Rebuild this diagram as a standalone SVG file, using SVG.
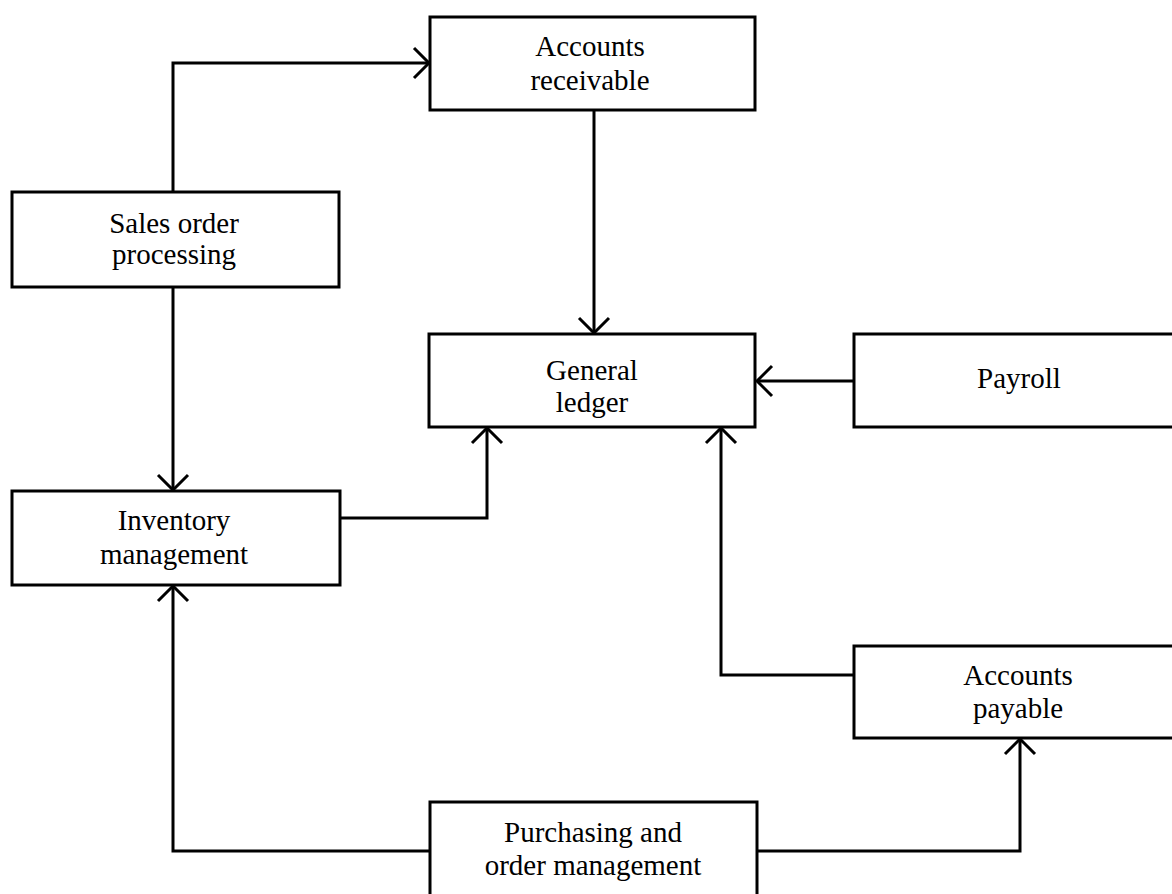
<svg xmlns="http://www.w3.org/2000/svg" width="1172" height="894" viewBox="0 0 1172 894">
  <style>
    .box { fill: #ffffff; stroke: #000000; stroke-width: 3; }
    .label { font-family: "Liberation Serif", "Times New Roman", serif; font-size: 29px; fill: #000000; text-anchor: middle; }
    .wire { fill: none; stroke: #000000; stroke-width: 3; stroke-linejoin: miter; }
  </style>
  <defs>
    <marker id="openArrow" markerUnits="userSpaceOnUse" markerWidth="40" markerHeight="40" viewBox="-20 -20 40 40" refX="0" refY="0" orient="auto" overflow="visible">
      <path d="M-15,-15 L0,0 L-15,15" fill="none" stroke="#000000" stroke-width="3" stroke-linejoin="round" stroke-linecap="butt"/>
    </marker>
  </defs>

  <!-- connectors -->
  <g id="connectors">
    <path class="wire" d="M173,192 L173,63 L429,63" marker-end="url(#openArrow)"/>
    <path class="wire" d="M173,287 L173,490" marker-end="url(#openArrow)"/>
    <path class="wire" d="M594,110 L594,333" marker-end="url(#openArrow)"/>
    <path class="wire" d="M854,381 L757,381" marker-end="url(#openArrow)"/>
    <path class="wire" d="M340,518 L487,518 L487,428" marker-end="url(#openArrow)"/>
    <path class="wire" d="M854,675 L721,675 L721,428" marker-end="url(#openArrow)"/>
    <path class="wire" d="M430,851 L173,851 L173,586" marker-end="url(#openArrow)"/>
    <path class="wire" d="M757,851 L1020,851 L1020,739" marker-end="url(#openArrow)"/>
  </g>

  <!-- nodes -->
  <g id="accounts-receivable">
    <rect class="box" x="430" y="17" width="325" height="93"/>
    <text class="label" x="590" y="56">Accounts</text>
    <text class="label" x="590" y="90">receivable</text>
  </g>

  <g id="sales-order-processing">
    <rect class="box" x="12" y="192" width="327" height="95"/>
    <text class="label" x="174" y="233">Sales order</text>
    <text class="label" x="174" y="264">processing</text>
  </g>

  <g id="general-ledger">
    <rect class="box" x="429" y="334" width="326" height="93"/>
    <text class="label" x="592" y="380">General</text>
    <text class="label" x="592" y="412">ledger</text>
  </g>

  <g id="payroll">
    <rect class="box" x="854" y="334" width="330" height="93"/>
    <text class="label" x="1019" y="388">Payroll</text>
  </g>

  <g id="inventory-management">
    <rect class="box" x="12" y="491" width="328" height="94"/>
    <text class="label" x="174" y="530">Inventory</text>
    <text class="label" x="174" y="564">management</text>
  </g>

  <g id="accounts-payable">
    <rect class="box" x="854" y="646" width="330" height="92"/>
    <text class="label" x="1018" y="685">Accounts</text>
    <text class="label" x="1018" y="718">payable</text>
  </g>

  <g id="purchasing-order-management">
    <rect class="box" x="430" y="802" width="327" height="110"/>
    <text class="label" x="593" y="842">Purchasing and</text>
    <text class="label" x="593" y="875">order management</text>
  </g>
</svg>
